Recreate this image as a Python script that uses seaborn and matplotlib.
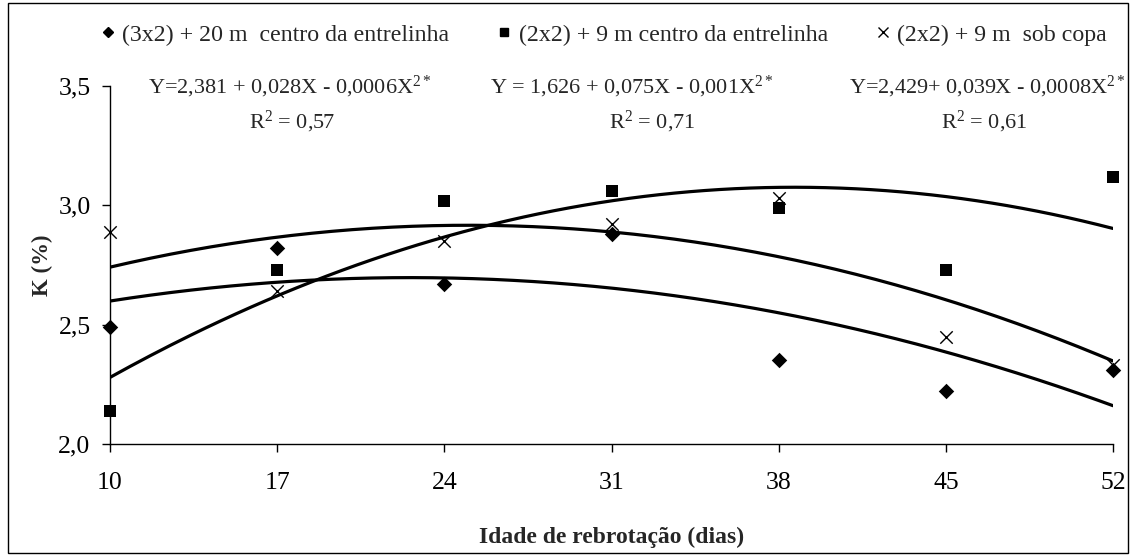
import numpy as np
import pandas as pd
import matplotlib
matplotlib.use("Agg")
import matplotlib.pyplot as plt
from matplotlib.lines import Line2D
from matplotlib.patches import Rectangle
import seaborn as sns

# Regrowth age (days)
dias = [10, 17, 24, 31, 38, 45, 52]

# Potassium content (%) per treatment
k_3x2_20m_centro = [2.49, 2.82, 2.67, 2.88, 2.35, 2.22, 2.31]
k_2x2_9m_centro = [2.14, 2.73, 3.02, 3.06, 2.99, 2.73, 3.12]
k_2x2_9m_copa = [2.89, 2.64, 2.85, 2.92, 3.03, 2.45, 2.33]

tratamentos = ["(3x2) + 20 m  centro da entrelinha",
               "(2x2) + 9 m centro da entrelinha",
               "(2x2) + 9 m  sob copa"]

# Quadratic fits Y = a + bX - cX^2 (one per treatment) and their R^2
coef_a = [2.381, 1.626, 2.429]
coef_b = [0.028, 0.075, 0.039]
coef_c = [0.00062, 0.00097, 0.00078]
dec_c = [4, 3, 4]
r2 = [0.57, 0.71, 0.61]

y_ticks = [2.0, 2.5, 3.0, 3.5]

sns.set_style("ticks")
plt.rcParams["font.family"] = ["Liberation Serif", "DejaVu Serif"]
plt.rcParams["mathtext.fontset"] = "custom"
plt.rcParams["mathtext.rm"] = "Liberation Serif"
plt.rcParams["mathtext.it"] = "Liberation Serif"

W, H = 1132, 556
fig = plt.figure(figsize=(W / 100, H / 100), dpi=100)
fig.patch.set_facecolor("white")
ax = fig.add_axes([110 / W, 1 - 444 / H, 1003 / W, 358 / H])
ax.set_facecolor("white")

df = pd.DataFrame({
    "dias": dias * 3,
    "K": k_3x2_20m_centro + k_2x2_9m_centro + k_2x2_9m_copa,
    "trat": [tratamentos[0]] * 7 + [tratamentos[1]] * 7 + [tratamentos[2]] * 7,
})

# fitted curves
xs = np.linspace(dias[0], dias[-1], 200)
for a, b, c in zip(coef_a, coef_b, coef_c):
    sns.lineplot(x=xs, y=a + b * xs - c * xs ** 2, ax=ax, color="black",
                 lw=2.3, legend=False)

markers = {tratamentos[0]: "D", tratamentos[1]: "s", tratamentos[2]: "x"}
sizes = {tratamentos[0]: 62, tratamentos[1]: 70, tratamentos[2]: 80}
for t in tratamentos:
    sub = df[df["trat"] == t]
    sns.scatterplot(data=sub, x="dias", y="K", marker=markers[t], s=sizes[t],
                    color="black", linewidth=1 if t == tratamentos[2] else 0,
                    ax=ax, legend=False, clip_on=False, zorder=3)

ax.set_xlim(dias[0], dias[-1])
ax.set_ylim(y_ticks[0], y_ticks[-1])
ax.set_xticks(dias)
ax.set_xticklabels([str(d) for d in dias])
ax.set_yticks(y_ticks)
ax.set_yticklabels([f"{v:.1f}".replace(".", ",") for v in y_ticks])
sns.despine(ax=ax)
for s in ("left", "bottom"):
    ax.spines[s].set_color("black")
    ax.spines[s].set_linewidth(1.0)
ax.tick_params(axis="x", direction="out", length=6, width=1, colors="black",
               labelsize=18.5, pad=14)
ax.tick_params(axis="y", direction="out", length=6, width=1, colors="black",
               labelsize=18.5, pad=8)
ax.set_xlabel("Idade de rebrotação (dias)", fontsize=17, fontweight="bold",
              labelpad=24)
ax.set_ylabel("K (%)", fontsize=16.5, fontweight="bold", labelpad=4)


def fmt(v, nd):
    return f"{v:.{nd}f}".replace(".", ",")


eq_texts = [
    f"Y={fmt(coef_a[0], 3)} + {fmt(coef_b[0], 3)}X - {fmt(coef_c[0], dec_c[0])}X$^{{2*}}$",
    f"Y = {fmt(coef_a[1], 3)} + {fmt(coef_b[1], 3)}X - {fmt(coef_c[1], dec_c[1])}X$^{{2*}}$",
    f"Y={fmt(coef_a[2], 3)}+ {fmt(coef_b[2], 3)}X - {fmt(coef_c[2], dec_c[2])}X$^{{2*}}$",
]
eq_x = [290, 632, 987]
r2_x = [292, 652, 984]
for t, ex, rx, r in zip(eq_texts, eq_x, r2_x, r2):
    fig.text(ex / W, 1 - 93 / H, t, ha="center", va="baseline", fontsize=16)
    fig.text(rx / W, 1 - 128 / H, f"R$^2$ = {fmt(r, 2)}", ha="center",
             va="baseline", fontsize=16)

handles = [
    Line2D([], [], ls="none", marker="D", color="black", markersize=5),
    Line2D([], [], ls="none", marker="s", color="black", markersize=6),
    Line2D([], [], ls="none", marker="x", color="black", markersize=7, mew=1),
]
fig.legend(handles, tratamentos, ncol=3, loc="center",
           bbox_to_anchor=(604 / W, 1 - 35 / H), frameon=False, fontsize=17.2,
           handlelength=0.6, handletextpad=0.3, columnspacing=2.0)

fig.patches.append(Rectangle((8 / W, 3 / H), 1120 / W, 550 / H,
                             transform=fig.transFigure, fill=False,
                             edgecolor="black", linewidth=1.0))

fig.savefig("out.png", dpi=100, facecolor="white")
